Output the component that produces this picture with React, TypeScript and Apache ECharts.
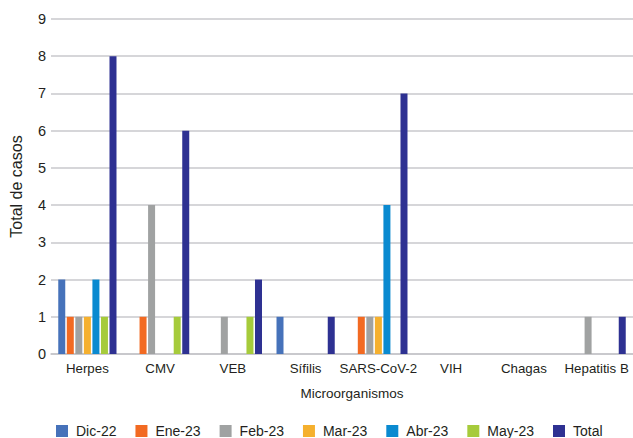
import React, { useEffect, useRef } from "react";
import * as echarts from "echarts";

const categories = ["Herpes", "CMV", "VEB", "Sífilis", "SARS-CoV-2", "VIH", "Chagas", "Hepatitis B"];
const seriesNames = ["Dic-22", "Ene-23", "Feb-23", "Mar-23", "Abr-23", "May-23", "Total"];
const dic22 = [2, 0, 0, 1, 0, 0, 0, 0];
const ene23 = [1, 1, 0, 0, 1, 0, 0, 0];
const feb23 = [1, 4, 1, 0, 1, 0, 0, 1];
const mar23 = [1, 0, 0, 0, 1, 0, 0, 0];
const abr23 = [2, 0, 0, 0, 4, 0, 0, 0];
const may23 = [1, 1, 1, 0, 0, 0, 0, 0];
const total = [8, 6, 2, 1, 7, 0, 0, 1];
const colors = ["#4672BA", "#F26A22", "#A0A2A2", "#F5B02E", "#0A8AD0", "#A6CB3B", "#2E3192"];
const yTicks = [0, 1, 2, 3, 4, 5, 6, 7, 8, 9];

const FONT = "'Liberation Sans', Arial, sans-serif";

export default function App() {
  const ref = useRef<HTMLDivElement>(null);
  useEffect(() => {
    if (!ref.current) return;
    const chart = echarts.init(ref.current, null, { renderer: "svg" });
    const data = [dic22, ene23, feb23, mar23, abr23, may23, total];
    chart.setOption({
      animation: false,
      color: colors,
      textStyle: { fontFamily: FONT },
      grid: { left: 50, width: 586, top: 19, height: 335, containLabel: false },
      legend: {
        data: seriesNames,
        left: 51,
        top: 419,
        itemWidth: 12,
        itemHeight: 12,
        itemGap: 19,
        icon: "rect",
        textStyle: { fontFamily: FONT, fontSize: 14, color: "#231F20", padding: [0, 0, 0, 3] },
      },
      xAxis: {
        type: "category",
        data: categories,
        name: "Microorganismos",
        nameLocation: "middle",
        nameGap: 32,
        nameTextStyle: { fontFamily: FONT, fontSize: 13.5, color: "#231F20", padding: [0, 0, 0, 20] },
        axisLine: { lineStyle: { color: "#C4C4C8", width: 1.5 } },
        axisTick: { show: false },
        axisLabel: { fontFamily: FONT, fontSize: 13.3, color: "#231F20", margin: 8, interval: 0 },
      },
      yAxis: {
        type: "value",
        min: yTicks[0],
        max: yTicks[yTicks.length - 1],
        interval: 1,
        name: "Total de casos",
        nameLocation: "middle",
        nameGap: 27,
        nameTextStyle: { fontFamily: FONT, fontSize: 16, color: "#231F20" },
        axisLine: { show: false },
        axisTick: { show: false },
        axisLabel: { fontFamily: FONT, fontSize: 14.5, color: "#231F20", margin: 5 },
        splitLine: { lineStyle: { color: "#C8C8CC", width: 1.5 } },
      },
      series: seriesNames.map((name, i) => ({
        name,
        type: "bar",
        data: data[i],
        barWidth: 7,
        barGap: "22%",
        itemStyle: { color: colors[i] },
      })),
    });
    return () => chart.dispose();
  }, []);
  return <div ref={ref} style={{ width: 633, height: 438, position: "absolute", left: 0, top: 0 }} />;
}
